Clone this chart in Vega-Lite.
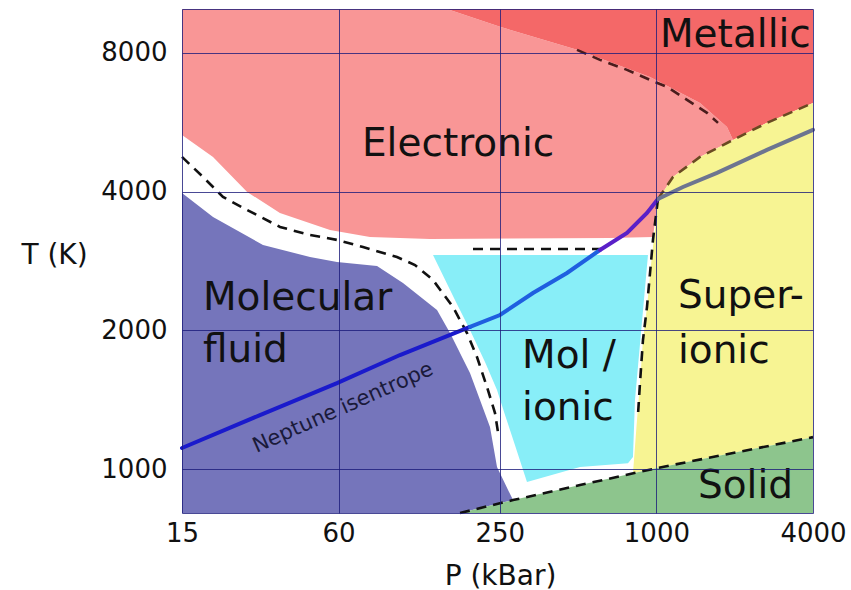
{
  "$schema": "https://vega.github.io/schema/vega-lite/v6.json",
  "width": 631,
  "height": 504,
  "autosize": {"type": "none"},
  "padding": {"left": 182, "top": 9, "right": 38, "bottom": 77},
  "background": "white",
  "config": {
    "font": "DejaVu Sans",
    "view": {"stroke": null},
    "axis": {
      "grid": true,
      "gridColor": "#1c1c7a",
      "gridOpacity": 0.8,
      "gridWidth": 1,
      "ticks": false,
      "domain": false,
      "labelFont": "DejaVu Sans",
      "labelFontSize": 26,
      "labelColor": "#111111",
      "labelFlush": false,
      "labelOverlap": false,
      "titleFont": "DejaVu Sans",
      "titleFontSize": 28,
      "titleFontWeight": "normal",
      "titleColor": "#111111"
    }
  },
  "encoding": {
    "x": {
      "field": "P",
      "type": "quantitative",
      "scale": {"type": "log", "domain": [15, 4000]},
      "axis": {
        "zindex": 1,
        "values": [15, 60, 250, 1000, 4000],
        "format": "d",
        "labelPadding": 7,
        "title": "P (kBar)",
        "titleX": 318,
        "titleY": 63,
        "titleBaseline": "middle",
        "titleAlign": "center"
      }
    },
    "y": {
      "field": "T",
      "type": "quantitative",
      "scale": {"type": "log", "domain": [803, 9960]},
      "axis": {
        "zindex": 1,
        "values": [803, 1000, 2000, 4000, 8000, 9960],
        "format": "d",
        "labelExpr": "datum.value == 803 || datum.value == 9960 ? '' : datum.label",
        "labelPadding": 15,
        "title": "T (K)",
        "titleAngle": 0,
        "titleX": -128,
        "titleY": 246,
        "titleAlign": "center",
        "titleBaseline": "middle"
      }
    }
  },
  "layer": [
    {
      "data": {"values": [
        {"region": "Electronic", "o": 1, "P": 15, "T": 9960},
        {"region": "Electronic", "o": 2, "P": 156.6, "T": 9960},
        {"region": "Electronic", "o": 3, "P": 250.4, "T": 9110},
        {"region": "Electronic", "o": 4, "P": 495.2, "T": 8121},
        {"region": "Electronic", "o": 5, "P": 944.7, "T": 7095},
        {"region": "Electronic", "o": 6, "P": 1471, "T": 6231},
        {"region": "Electronic", "o": 7, "P": 1868, "T": 5527},
        {"region": "Electronic", "o": 8, "P": 1970, "T": 5179},
        {"region": "Electronic", "o": 9, "P": 1471, "T": 4757},
        {"region": "Electronic", "o": 10, "P": 1158, "T": 4304},
        {"region": "Electronic", "o": 11, "P": 1014, "T": 3837},
        {"region": "Electronic", "o": 12, "P": 970, "T": 3189},
        {"region": "Electronic", "o": 13, "P": 663, "T": 3173},
        {"region": "Electronic", "o": 14, "P": 134.8, "T": 3157},
        {"region": "Electronic", "o": 15, "P": 79.2, "T": 3189},
        {"region": "Electronic", "o": 16, "P": 55.6, "T": 3302},
        {"region": "Electronic", "o": 17, "P": 35.7, "T": 3595},
        {"region": "Electronic", "o": 18, "P": 26.7, "T": 3993},
        {"region": "Electronic", "o": 19, "P": 19.74, "T": 4757},
        {"region": "Electronic", "o": 20, "P": 15, "T": 5310},

        {"region": "Metallic", "o": 1, "P": 156.6, "T": 9960},
        {"region": "Metallic", "o": 2, "P": 4000, "T": 9960},
        {"region": "Metallic", "o": 3, "P": 4000, "T": 6231},
        {"region": "Metallic", "o": 4, "P": 2661, "T": 5639},
        {"region": "Metallic", "o": 5, "P": 1970, "T": 5179},
        {"region": "Metallic", "o": 6, "P": 1868, "T": 5527},
        {"region": "Metallic", "o": 7, "P": 1471, "T": 6231},
        {"region": "Metallic", "o": 8, "P": 944.7, "T": 7095},
        {"region": "Metallic", "o": 9, "P": 495.2, "T": 8121},
        {"region": "Metallic", "o": 10, "P": 250.4, "T": 9110},

        {"region": "Superionic", "o": 1, "P": 1014, "T": 3837},
        {"region": "Superionic", "o": 2, "P": 1158, "T": 4304},
        {"region": "Superionic", "o": 3, "P": 1471, "T": 4757},
        {"region": "Superionic", "o": 4, "P": 1970, "T": 5179},
        {"region": "Superionic", "o": 5, "P": 2661, "T": 5639},
        {"region": "Superionic", "o": 6, "P": 4000, "T": 6231},
        {"region": "Superionic", "o": 7, "P": 4000, "T": 1173},
        {"region": "Superionic", "o": 8, "P": 1005, "T": 1005},
        {"region": "Superionic", "o": 9, "P": 812.7, "T": 980},
        {"region": "Superionic", "o": 10, "P": 842, "T": 1277},
        {"region": "Superionic", "o": 11, "P": 864.7, "T": 1537},
        {"region": "Superionic", "o": 12, "P": 887.9, "T": 1906},
        {"region": "Superionic", "o": 13, "P": 920, "T": 2247},
        {"region": "Superionic", "o": 14, "P": 961.6, "T": 2914},
        {"region": "Superionic", "o": 15, "P": 987.5, "T": 3302},

        {"region": "Mol/ionic", "o": 1, "P": 138.4, "T": 2914},
        {"region": "Mol/ionic", "o": 2, "P": 928.1, "T": 2914},
        {"region": "Mol/ionic", "o": 3, "P": 827.2, "T": 1412},
        {"region": "Mol/ionic", "o": 4, "P": 812.7, "T": 1062},
        {"region": "Mol/ionic", "o": 5, "P": 777.6, "T": 1030},
        {"region": "Mol/ionic", "o": 6, "P": 508.5, "T": 1010},
        {"region": "Mol/ionic", "o": 7, "P": 318, "T": 937},
        {"region": "Mol/ionic", "o": 8, "P": 286, "T": 1127},
        {"region": "Mol/ionic", "o": 9, "P": 261.8, "T": 1310},
        {"region": "Mol/ionic", "o": 10, "P": 243.9, "T": 1484},
        {"region": "Mol/ionic", "o": 11, "P": 219.3, "T": 1707},
        {"region": "Mol/ionic", "o": 12, "P": 192, "T": 2003},
        {"region": "Mol/ionic", "o": 13, "P": 168.1, "T": 2328},

        {"region": "Molecular fluid", "o": 1, "P": 15, "T": 3973},
        {"region": "Molecular fluid", "o": 2, "P": 19.74, "T": 3524},
        {"region": "Molecular fluid", "o": 3, "P": 30.73, "T": 3064},
        {"region": "Molecular fluid", "o": 4, "P": 46.58, "T": 2885},
        {"region": "Molecular fluid", "o": 5, "P": 59.16, "T": 2814},
        {"region": "Molecular fluid", "o": 6, "P": 84.3, "T": 2758},
        {"region": "Molecular fluid", "o": 7, "P": 106.1, "T": 2534},
        {"region": "Molecular fluid", "o": 8, "P": 143.4, "T": 2214},
        {"region": "Molecular fluid", "o": 9, "P": 160.9, "T": 1973},
        {"region": "Molecular fluid", "o": 10, "P": 192, "T": 1616},
        {"region": "Molecular fluid", "o": 11, "P": 209.8, "T": 1412},
        {"region": "Molecular fluid", "o": 12, "P": 229.2, "T": 1234},
        {"region": "Molecular fluid", "o": 13, "P": 243.9, "T": 1010},
        {"region": "Molecular fluid", "o": 14, "P": 281, "T": 856.5},
        {"region": "Molecular fluid", "o": 15, "P": 175.8, "T": 803},
        {"region": "Molecular fluid", "o": 16, "P": 15, "T": 803},

        {"region": "Solid", "o": 1, "P": 175.8, "T": 803},
        {"region": "Solid", "o": 2, "P": 281, "T": 856.5},
        {"region": "Solid", "o": 3, "P": 508.5, "T": 923.2},
        {"region": "Solid", "o": 4, "P": 1005, "T": 1005},
        {"region": "Solid", "o": 5, "P": 4000, "T": 1173},
        {"region": "Solid", "o": 6, "P": 4000, "T": 803}
      ]},
      "mark": {"type": "line", "strokeWidth": 0, "strokeOpacity": 0, "interpolate": "linear"},
      "encoding": {
        "fill": {
          "field": "region",
          "type": "nominal",
          "scale": {
            "domain": ["Electronic", "Metallic", "Superionic", "Mol/ionic", "Molecular fluid", "Solid"],
            "range": ["#f99696", "#f46868", "#f7f493", "#88eef8", "#7575bb", "#8dc58d"]
          },
          "legend": null
        },
        "order": {"field": "o", "type": "quantitative"}
      }
    },
    {
      "data": {"values": [
        {"b": "left", "o": 1, "P": 15, "T": 4757},
        {"b": "left", "o": 2, "P": 18.06, "T": 4304},
        {"b": "left", "o": 3, "P": 21.56, "T": 3895},
        {"b": "left", "o": 4, "P": 26.67, "T": 3650},
        {"b": "left", "o": 5, "P": 35.72, "T": 3352},
        {"b": "left", "o": 6, "P": 46.58, "T": 3221},
        {"b": "left", "o": 7, "P": 59.16, "T": 3142},
        {"b": "left", "o": 8, "P": 74.47, "T": 3033},
        {"b": "left", "o": 9, "P": 100.6, "T": 2885},
        {"b": "left", "o": 10, "P": 118, "T": 2772},
        {"b": "left", "o": 11, "P": 138.4, "T": 2572},
        {"b": "left", "o": 12, "P": 165.2, "T": 2247},
        {"b": "left", "o": 13, "P": 187, "T": 1973},
        {"b": "left", "o": 14, "P": 204.3, "T": 1750},
        {"b": "left", "o": 15, "P": 223.2, "T": 1507},
        {"b": "left", "o": 16, "P": 239.6, "T": 1323},
        {"b": "left", "o": 17, "P": 246, "T": 1203},
        {"b": "flat", "o": 1, "P": 197.2, "T": 3003},
        {"b": "flat", "o": 2, "P": 634.3, "T": 3003},
        {"b": "superLeft", "o": 1, "P": 1014, "T": 3856},
        {"b": "superLeft", "o": 2, "P": 970.1, "T": 3142},
        {"b": "superLeft", "o": 3, "P": 920, "T": 2247},
        {"b": "superLeft", "o": 4, "P": 887.9, "T": 1906},
        {"b": "superLeft", "o": 5, "P": 864.7, "T": 1537},
        {"b": "superLeft", "o": 6, "P": 849.5, "T": 1310},
        {"b": "solid", "o": 1, "P": 175.8, "T": 803},
        {"b": "solid", "o": 2, "P": 281, "T": 856.5},
        {"b": "solid", "o": 3, "P": 508.5, "T": 923.2},
        {"b": "solid", "o": 4, "P": 1005, "T": 1005},
        {"b": "solid", "o": 5, "P": 4000, "T": 1173}
      ]},
      "mark": {"type": "line", "stroke": "#111111", "strokeWidth": 2.6, "strokeDash": [10, 7]},
      "encoding": {
        "detail": {"field": "b", "type": "nominal"},
        "order": {"field": "o", "type": "quantitative"}
      }
    },
    {
      "data": {"values": [
        {"b": "metal", "o": 1, "P": 495.2, "T": 8121},
        {"b": "metal", "o": 2, "P": 606.9, "T": 7724},
        {"b": "metal", "o": 3, "P": 770.7, "T": 7348},
        {"b": "metal", "o": 4, "P": 944.7, "T": 6990},
        {"b": "metal", "o": 5, "P": 1098, "T": 6750},
        {"b": "metal", "o": 6, "P": 1311, "T": 6325},
        {"b": "metal", "o": 7, "P": 1565, "T": 5927},
        {"b": "metal", "o": 8, "P": 1725, "T": 5639},
        {"b": "superTop", "o": 1, "P": 1014, "T": 3856},
        {"b": "superTop", "o": 2, "P": 1158, "T": 4304},
        {"b": "superTop", "o": 3, "P": 1471, "T": 4757},
        {"b": "superTop", "o": 4, "P": 1970, "T": 5179},
        {"b": "superTop", "o": 5, "P": 2661, "T": 5639},
        {"b": "superTop", "o": 6, "P": 4000, "T": 6231}
      ]},
      "mark": {"type": "line", "strokeWidth": 2.6, "strokeDash": [10, 7]},
      "encoding": {
        "stroke": {
          "field": "b",
          "type": "nominal",
          "scale": {"domain": ["metal", "superTop"], "range": ["#4a1c1c", "#6a4a22"]},
          "legend": null
        },
        "order": {"field": "o", "type": "quantitative"}
      }
    },
    {
      "data": {"values": [
        {"seg": "a", "o": 1, "P": 15, "T": 1111},
        {"seg": "a", "o": 2, "P": 29.92, "T": 1310},
        {"seg": "a", "o": 3, "P": 59.16, "T": 1537},
        {"seg": "a", "o": 4, "P": 103.3, "T": 1768},
        {"seg": "a", "o": 5, "P": 192, "T": 2034},
        {"seg": "b", "o": 1, "P": 192, "T": 2034},
        {"seg": "b", "o": 2, "P": 250.4, "T": 2159},
        {"seg": "b", "o": 3, "P": 335.4, "T": 2410},
        {"seg": "b", "o": 4, "P": 453.2, "T": 2664},
        {"seg": "b", "o": 5, "P": 606.9, "T": 2988},
        {"seg": "c", "o": 1, "P": 606.9, "T": 2988},
        {"seg": "c", "o": 2, "P": 770.7, "T": 3253},
        {"seg": "c", "o": 3, "P": 920, "T": 3595},
        {"seg": "c", "o": 4, "P": 1014, "T": 3856},
        {"seg": "d", "o": 1, "P": 1014, "T": 3856},
        {"seg": "d", "o": 2, "P": 1265, "T": 4094},
        {"seg": "d", "o": 3, "P": 1710, "T": 4391},
        {"seg": "d", "o": 4, "P": 2661, "T": 4926},
        {"seg": "d", "o": 5, "P": 4000, "T": 5445}
      ]},
      "mark": {"type": "line", "strokeWidth": 4, "strokeCap": "round"},
      "encoding": {
        "stroke": {
          "field": "seg",
          "type": "nominal",
          "scale": {"domain": ["a", "b", "c", "d"], "range": ["#1a1acc", "#1f5fe0", "#5a20c8", "#6d7590"]},
          "legend": null
        },
        "order": {"field": "o", "type": "quantitative"}
      }
    },
    {
      "data": {"values": [
        {"label": "Metallic", "P": 1032, "T": 8244},
        {"label": "Electronic", "P": 73.8, "T": 4781},
        {"label": "Molecular", "P": 18.06, "T": 2214},
        {"label": "fluid", "P": 18.06, "T": 1707},
        {"label": "Mol /", "P": 304.4, "T": 1657},
        {"label": "ionic", "P": 304.4, "T": 1277},
        {"label": "Super-", "P": 1210, "T": 2236},
        {"label": "ionic", "P": 1210, "T": 1699},
        {"label": "Solid", "P": 1445, "T": 865}
      ]},
      "mark": {"type": "text", "align": "left", "baseline": "alphabetic", "fontSize": 39, "color": "#111111", "font": "DejaVu Sans"},
      "encoding": {
        "text": {"field": "label", "type": "nominal"}
      }
    },
    {
      "data": {"values": [
        {"label": "Neptune isentrope", "P": 62.39, "T": 1357}
      ]},
      "mark": {"type": "text", "align": "center", "baseline": "middle", "fontSize": 21, "angle": -24, "color": "#1a1a3a", "font": "DejaVu Sans"},
      "encoding": {
        "text": {"field": "label", "type": "nominal"}
      }
    }
  ],
  "resolve": {"scale": {"stroke": "independent"}}
}
